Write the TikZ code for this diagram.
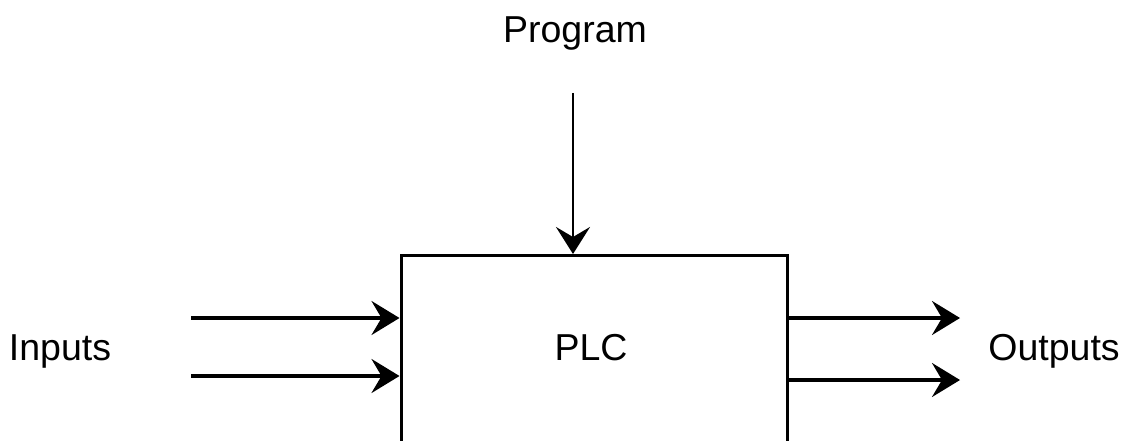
\documentclass[tikz,border=0pt]{standalone}
\usepackage{fontspec}
\setmainfont{Liberation Sans}
\usetikzlibrary{arrows.meta}
\begin{document}
\begin{tikzpicture}[x=1pt,y=-1pt,
  lbl/.style={font=\fontsize{37.5}{41}\selectfont, inner sep=0pt, anchor=base},
  plcbox/.style={draw, line width=3.2pt, minimum width=386pt, minimum height=210pt, inner sep=0pt},
  flow/.style={line width=3.3pt, -{Stealth[length=28pt, width=34pt, inset=10pt]}},
  feed/.style={line width=2.6pt, -{Stealth[length=27pt, width=34pt, inset=10pt]}}]
  \useasboundingbox (0,0) rectangle (1129,441);
  % controller block, cut off at the lower edge
  \node[plcbox, anchor=north west] (plc) at (399.5,254) {};
  \node[lbl] (plctext) at (591,360) {PLC};
  % side and top labels
  \node[lbl] (inputs) at (60,360) {Inputs};
  \node[lbl] (outputs) at (1054,360) {Outputs};
  \node[lbl] (program) at (575,43) {Program};
  % signal sources and sinks
  \coordinate (in1) at (191,318);
  \coordinate (in2) at (191,376);
  \coordinate (out1) at (960,318);
  \coordinate (out2) at (960,380);
  \coordinate (prog) at (573,93);
  % connectors
  \draw[flow] (in1) -- (in1 -| plc.west);
  \draw[flow] (in2) -- (in2 -| plc.west);
  \draw[flow] (out1 -| plc.east) -- (out1);
  \draw[flow] (out2 -| plc.east) -- (out2);
  \draw[feed] (prog) -- (prog |- plc.north);
\end{tikzpicture}
\end{document}
